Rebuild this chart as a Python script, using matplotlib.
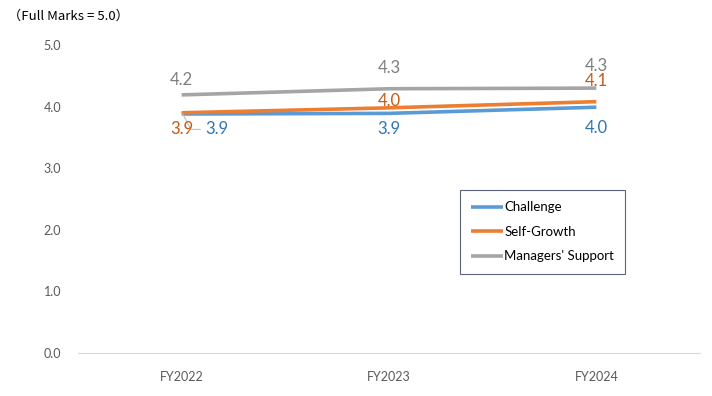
import matplotlib
matplotlib.use("Agg")
import matplotlib.pyplot as plt

years = ["FY2022", "FY2023", "FY2024"]
challenge = [3.88, 3.89, 3.99]
self_growth = [3.90, 3.98, 4.08]
managers = [4.19, 4.29, 4.30]
series_names = ["Challenge", "Self-Growth", "Managers' Support"]

line_colors = ["#5B9BD5", "#ED7D31", "#A5A5A5"]
label_colors = ["#2E75B6", "#C55A11", "#7F7F7F"]

plt.rcParams["font.family"] = ["Lato", "DejaVu Sans"]

fig = plt.figure(figsize=(7.12, 3.96), dpi=100)
ax = fig.add_axes([78 / 712, 1 - 353 / 396, 622 / 712, 308 / 396])

x = range(len(years))
for vals, name, c in zip([challenge, self_growth, managers], series_names, line_colors):
    ax.plot(x, vals, color=c, lw=2.6, label=name, solid_capstyle="butt")

ax.set_xlim(-0.5, 2.5)
ax.set_ylim(0, 5)
ax.set_yticks([0, 1, 2, 3, 4, 5])
ax.set_yticklabels(["%.1f" % v for v in [0, 1, 2, 3, 4, 5]])
ax.set_xticks(list(x))
ax.set_xticklabels(years)
ax.tick_params(length=0, colors="#595959", labelsize=9)
ax.tick_params(axis="y", pad=12)
ax.tick_params(axis="x", pad=13)
for s in ["top", "right", "left"]:
    ax.spines[s].set_visible(False)
ax.spines["bottom"].set_color("#D9D9D9")

# data labels (offsets in points)
def lab(i, v, dx, dy, c, ha="center"):
    ax.annotate("%.1f" % v, (i, v), xytext=(dx, dy), textcoords="offset points",
                ha=ha, va="center", color=c, fontsize=12)

# Managers' Support, above
lab(0, managers[0], 0, 11, label_colors[2])
lab(1, managers[1], 0, 15, label_colors[2])
lab(2, managers[2], 0, 16, label_colors[2])
# Self-Growth
ax.annotate("%.1f" % self_growth[0], (0, self_growth[0]), xytext=(0, -12),
            textcoords="offset points", ha="center", va="center",
            color=label_colors[1], fontsize=12)
ax.plot([0.005, 0.045, 0.09], [3.88, 3.63, 3.63], color="#BFBFBF", lw=0.8)
lab(1, self_growth[1], 0, 5, label_colors[1])
lab(2, self_growth[2], 0, 15, label_colors[1])
# Challenge
lab(0, challenge[0], 25, -11, label_colors[0])
lab(1, challenge[1], 0, -11, label_colors[0])
lab(2, challenge[2], 0, -15, label_colors[0])

leg = ax.legend(loc="upper left", bbox_to_anchor=(382 / 622, 163 / 308),
                frameon=True, fancybox=False, handlelength=2.4,
                handletextpad=0.1, labelspacing=0.95, borderpad=0.85,
                borderaxespad=0, prop={"family": "Lato", "size": 9.5})
leg.get_frame().set_edgecolor("#2F3E5C")
leg.get_frame().set_linewidth(0.8)
for t in leg.get_texts():
    t.set_color("#000000")

fig.text(8 / 712, 1 - 16 / 396, "（Full Marks = 5.0）", fontsize=9.5,
         color="#000000", va="center", ha="left",
         family=["Noto Sans CJK JP", "DejaVu Sans"])

fig.savefig("out.png", dpi=100)
